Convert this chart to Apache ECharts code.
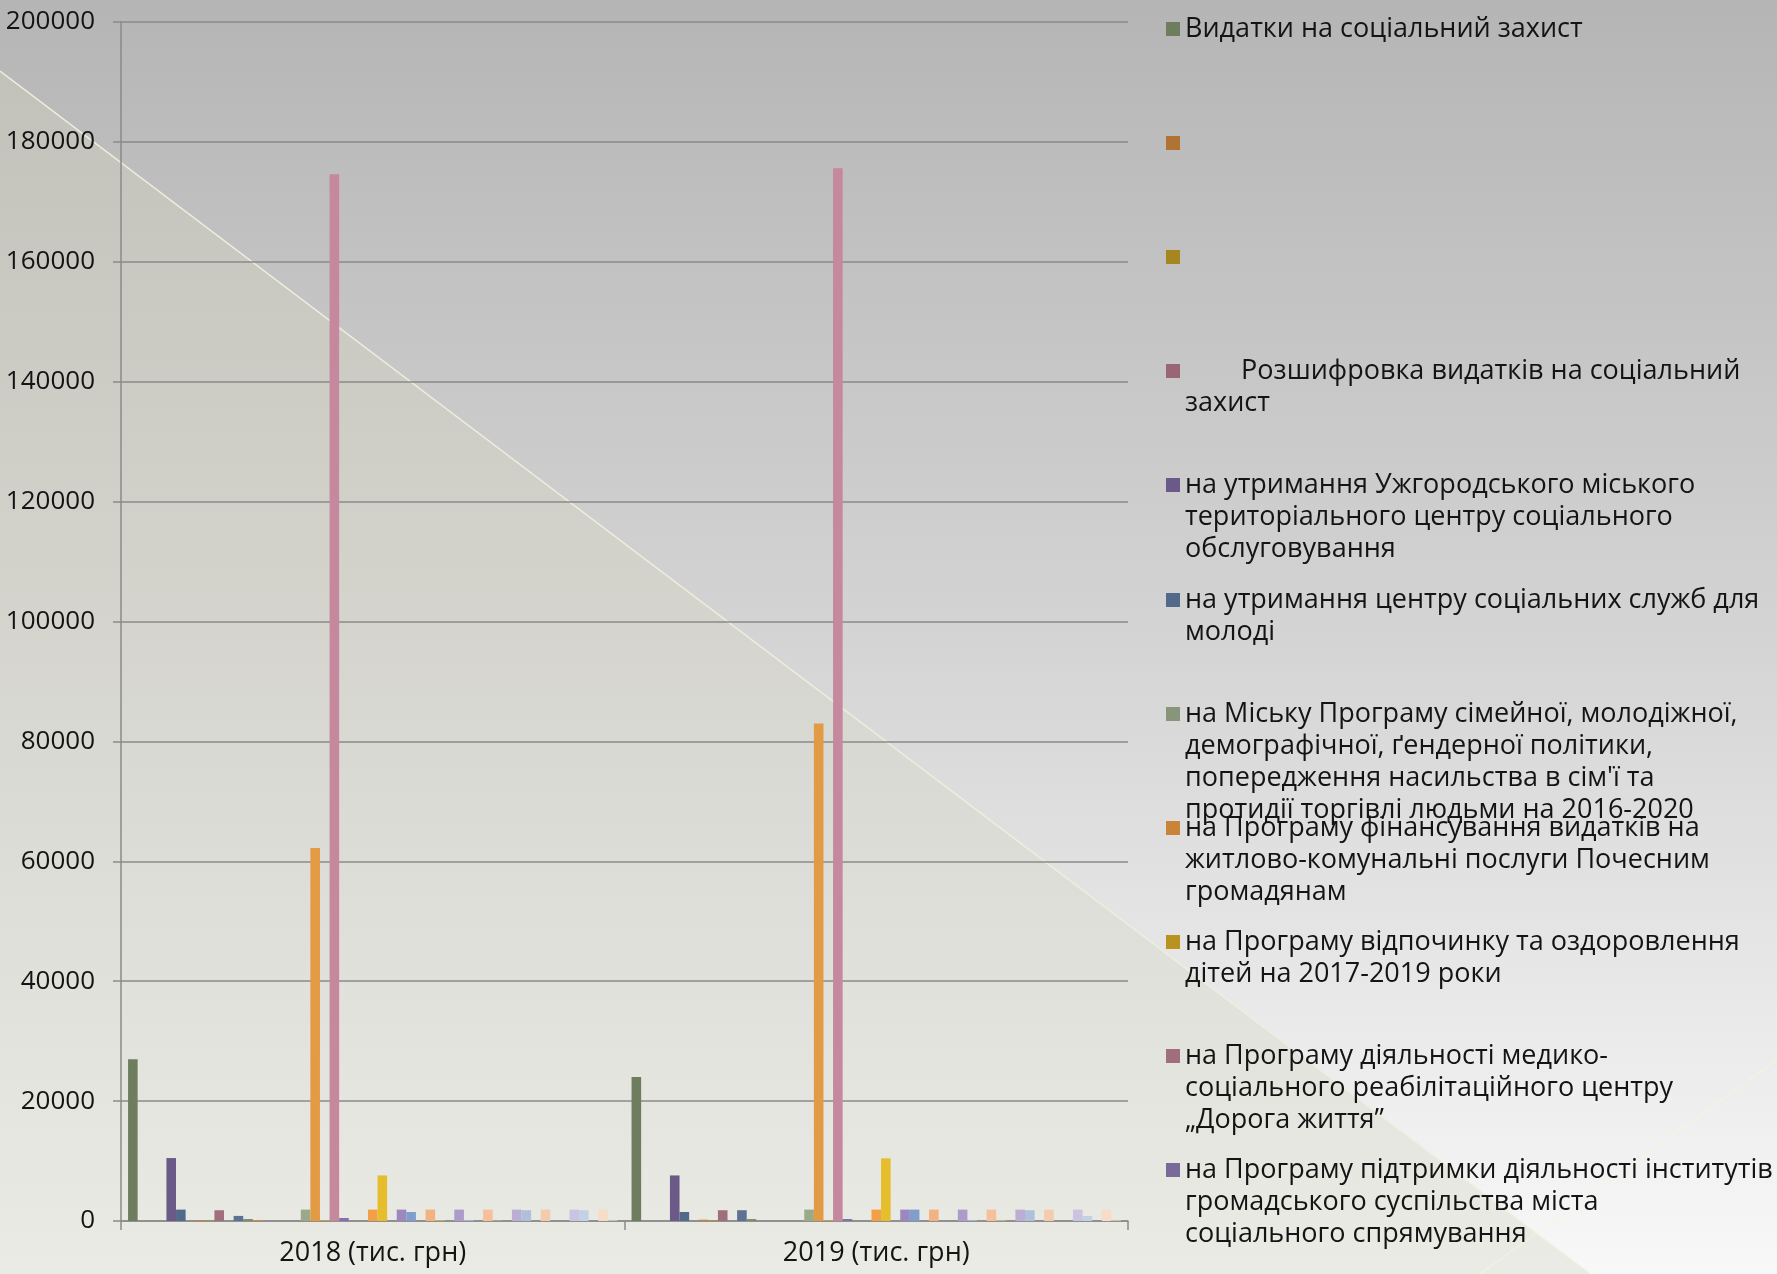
<!DOCTYPE html>
<html>
<head>
<meta charset="utf-8">
<script src="https://cdn.jsdelivr.net/npm/echarts@6/dist/echarts.min.js"></script>
<style>
html, body { margin: 0; padding: 0; }
#chart { width: 1777px; height: 1274px; }
</style>
</head>
<body>
<div id="chart"></div>
<script>
// ---------- DATA ----------
const categories = ['2018 (тис. грн)', '2019 (тис. грн)'];

// Names of the series shown in the (truncated) legend, in series order
const legendNames = [
  'Видатки на соціальний захист',
  ' ',
  '  ',
  '        Розшифровка видатків на соціальний захист',
  'на утримання Ужгородського міського територіального центру соціального обслуговування',
  'на утримання центру соціальних служб для молоді',
  'на Міську Програму сімейної, молодіжної, демографічної, ґендерної політики, попередження насильства в сім\'ї та протидії торгівлі людьми на 2016-2020',
  'на Програму фінансування видатків на житлово-комунальні послуги Почесним громадянам',
  'на Програму відпочинку та оздоровлення дітей на 2017-2019 роки',
  'на Програму діяльності медико-соціального реабілітаційного центру „Дорога життя”',
  'на Програму підтримки діяльності інститутів громадського суспільства міста соціального спрямування'
];

// Legend labels as they are wrapped in the picture
const legendLabels = [
  'Видатки на соціальний захист',
  ' ',
  ' ',
  '        Розшифровка видатків на соціальний\nзахист',
  'на утримання Ужгородського міського\nтериторіального центру соціального\nобслуговування',
  'на утримання центру соціальних служб для\nмолоді',
  'на Міську Програму сімейної, молодіжної,\nдемографічної, ґендерної політики,\nпопередження насильства в сім\'ї та\nпротидії торгівлі людьми на 2016-2020',
  'на Програму фінансування видатків на\nжитлово-комунальні послуги Почесним\nгромадянам',
  'на Програму відпочинку та оздоровлення\nдітей на 2017-2019 роки',
  'на Програму діяльності медико-\nсоціального реабілітаційного центру\n„Дорога життя”',
  'на Програму підтримки діяльності інститутів\nгромадського суспільства міста\nсоціального спрямування'
];

// One value per series (51 series), for each year
const values2018 = [
  27000, 0, 0, 0, 10500, 1900, 0, 150, 100, 1800,
  0, 850, 330, 170, 0, 0, 0, 0, 1900, 62200,
  100, 174600, 500, 0, 0, 1900, 7600, 0, 1900, 1500,
  0, 1900, 100, 0, 1900, 170, 0, 1900, 50, 0,
  1900, 1800, 0, 1900, 0, 0, 1900, 1800, 0, 1900,
  100
];
const values2019 = [
  24000, 0, 0, 0, 7600, 1500, 0, 220, 100, 1800,
  0, 1800, 330, 0, 0, 0, 0, 0, 1900, 83000,
  100, 175600, 330, 0, 0, 1900, 10450, 0, 1900, 1900,
  0, 1900, 0, 0, 1900, 170, 0, 1900, 100, 0,
  1900, 1800, 0, 1900, 0, 0, 1900, 830, 0, 1900,
  100
];

const yMin = 0, yMax = 200000, yInterval = 20000;

// ---------- STYLE ----------
const palette = [
  '#6F7D5F', '#B07333', '#A6861E', '#9A6675', '#6B5A87', '#53698A',
  '#87967A', '#C9843A', '#B8941E', '#A06F7E', '#7A6A9A', '#5C7193',
  '#7E8F6E', '#D08A3E', '#C9A31F', '#B07A8A', '#8B79AC', '#6882A5',
  '#9AA989', '#E39A45', '#D8B02A', '#C5889D', '#8371AE', '#7090BC',
  '#A8B596', '#F2A045', '#E6BD2C', '#CC93A5', '#9C87BF', '#7F9ECC',
  '#B5C0A6', '#F3B27F', '#EBC650', '#D4A2B2', '#AD9BC9', '#A0B5D8',
  '#C0CAB3', '#F5C09A', '#EECF73', '#DBB1BE', '#BBAED4', '#AEC0DA',
  '#CCD4C2', '#F5CBAE', '#F1D993', '#E2C1CB', '#CBC3E0', '#C4D0E4',
  '#D7DDCF', '#F7DCC8', '#F4E2B0'
];
const FONT = '"Open Sans", "Noto Sans", sans-serif';
const AXIS_COLOR = '#8a8a8a';
const LINE_H = 32;
const SW = 14; // legend swatch size

const chart = echarts.init(document.getElementById('chart'), null, { renderer: 'canvas' });

const series = values2018.map((v, k) => ({
  type: 'bar',
  name: k < legendNames.length ? legendNames[k] : undefined,
  data: [values2018[k], values2019[k]],
  itemStyle: { color: palette[k % palette.length] },
  barGap: '0%',
  barCategoryGap: '2.8%',
  animation: false
}));

const legends = legendNames.map((name, i) => {
  const n = legendLabels[i].split('\n').length;
  const H = n * LINE_H;
  const a = LINE_H / 2 - SW / 2;
  return {
    data: [name],
    left: 1166,
    top: Math.round(13 + 114.1 * i),
    padding: 0,
    orient: 'vertical',
    selectedMode: false,
    itemWidth: SW,
    itemHeight: H,
    icon: 'path://M0,0h0.01v0.01h-0.01zM0,' + a + 'h' + SW + 'v' + SW + 'h-' + SW + 'zM0,' + (H - 0.01) + 'h0.01v0.01h-0.01z',
    itemStyle: { borderWidth: 0 },
    formatter: function () { return legendLabels[i]; },
    textStyle: { fontFamily: FONT, fontSize: 27, lineHeight: LINE_H, color: '#141414' }
  };
});

const option = {
  animation: false,
  backgroundColor: {
    type: 'linear', x: 0, y: 0, x2: 0, y2: 1,
    colorStops: [
      { offset: 0, color: '#b5b5b5' },
      { offset: 0.5, color: '#d4d4d4' },
      { offset: 1, color: '#f8f8f8' }
    ]
  },
  graphic: [
    {
      type: 'polygon', z: -100, silent: true,
      shape: { points: [[0, 71], [1590, 1274], [0, 1274]] },
      style: {
        fill: {
          type: 'linear', x: 0, y: 0, x2: 0, y2: 1,
          colorStops: [
            { offset: 0, color: '#c2c2ba' },
            { offset: 1, color: '#ebebe6' }
          ]
        }
      }
    },
    {
      type: 'line', z: -99, silent: true,
      shape: { x1: 0, y1: 71, x2: 1590, y2: 1274 },
      style: { stroke: '#eeeedf', lineWidth: 1.5 }
    },
    {
      type: 'line', z: -99, silent: true,
      shape: { x1: 1480, y1: 1274, x2: 1777, y2: 1060 },
      style: { stroke: 'rgba(248,248,215,0.8)', lineWidth: 1 }
    }
  ],
  legend: legends,
  grid: { left: 121, right: 649, top: 22, bottom: 53, containLabel: false },
  xAxis: {
    type: 'category',
    data: categories,
    axisLine: { show: true, lineStyle: { color: AXIS_COLOR, width: 1.5 } },
    axisTick: { show: true, length: 9, lineStyle: { color: AXIS_COLOR, width: 1.5 } },
    axisLabel: { fontFamily: FONT, fontSize: 27, color: '#141414', margin: 19 },
    splitLine: { show: false }
  },
  yAxis: {
    type: 'value',
    min: yMin, max: yMax, interval: yInterval,
    axisLine: { show: true, lineStyle: { color: AXIS_COLOR, width: 1.5 } },
    axisTick: { show: true, length: 8, lineStyle: { color: AXIS_COLOR, width: 1.5 } },
    axisLabel: {
      fontFamily: FONT, fontSize: 26, color: '#141414', margin: 26,
      formatter: function (v) { return String(v); }
    },
    splitLine: { show: true, lineStyle: { color: AXIS_COLOR, width: 1.5 } }
  },
  series: series
};

chart.setOption(option);
</script>
</body>
</html>
